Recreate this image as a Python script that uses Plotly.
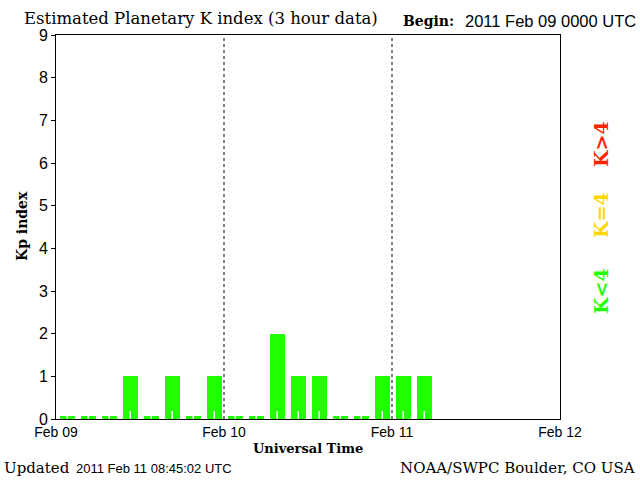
import plotly.graph_objects as go

# Kp index, 3-hour intervals starting 2011 Feb 09 00 UTC
kp_values = [0, 0, 0, 1, 0, 1, 0, 1,
             0, 0, 2, 1, 1, 0, 0, 1,
             1, 1]
day_labels = ["Feb 09", "Feb 10", "Feb 11", "Feb 12"]
day_hours = [0, 24, 48, 72]
y_ticks = list(range(10))

GREEN = "#22ff00"
YELLOW = "#ffd700"
RED = "#ff2200"
SERIF = "DejaVu Serif"
SANS = "Liberation Sans"

# plot area in pixels (640x480 page)
L, R, T, B = 56, 560, 35, 419


def px(x):
    return (x - L) / (R - L)


def py(y):
    return (B - y) / (B - T)


def kp_color(v):
    if v < 4:
        return GREEN
    if v == 4:
        return YELLOW
    return RED


centers = [3 * i + 1.6 for i in range(len(kp_values))]
heights = [v if v > 0 else 0.08 for v in kp_values]

fig = go.Figure()
fig.add_trace(go.Bar(
    x=centers,
    y=heights,
    width=2.2,
    marker=dict(color=[kp_color(v) for v in kp_values], line=dict(width=0)),
    customdata=kp_values,
    hovertemplate="Kp %{customdata}<extra></extra>",
))

# small white ticks at the foot of each bar
tx, ty = [], []
for c in centers:
    tx += [c, c, None]
    ty += [0, 0.19, None]
fig.add_trace(go.Scatter(x=tx, y=ty, mode="lines",
                         line=dict(color="white", width=1.5),
                         hoverinfo="skip"))

# dotted day separators
for h in day_hours[1:-1]:
    fig.add_shape(type="line", xref="x", yref="y", x0=h, x1=h, y0=0, y1=9,
                  line=dict(color="black", width=1, dash="dot"))

annots = [
    dict(text="Estimated Planetary K index (3 hour data)", x=px(22), y=py(19),
         xanchor="left", font=dict(family=SERIF, size=16.5, color="black")),
    dict(text="<b>Begin:</b>", x=px(401), y=py(21), xanchor="left",
         font=dict(family=SERIF, size=14, color="black")),
    dict(text="2011 Feb 09 0000 UTC", x=px(638), y=py(21), xanchor="right",
         font=dict(family=SANS, size=16.5, color="black")),
    dict(text="<b>Kp index</b>", x=px(22), y=py(226), textangle=-90,
         font=dict(family=SERIF, size=14, color="black")),
    dict(text="<b>Universal Time</b>", x=px(308), y=py(448),
         font=dict(family=SERIF, size=13, color="black")),
    dict(text="Updated", x=px(2), y=py(468), xanchor="left",
         font=dict(family=SERIF, size=15, color="black")),
    dict(text="2011 Feb 11 08:45:02 UTC", x=px(74), y=py(468), xanchor="left",
         font=dict(family=SANS, size=13, color="black")),
    dict(text="NOAA/SWPC Boulder, CO USA", x=px(637), y=py(468), xanchor="right",
         font=dict(family=SERIF, size=15, color="black")),
    dict(text="<b>K&gt;4</b>", x=px(601), y=py(144), textangle=-90,
         font=dict(family=SERIF, size=19, color=RED)),
    dict(text="<b>K=4</b>", x=px(601), y=py(215), textangle=-90,
         font=dict(family=SERIF, size=19, color=YELLOW)),
    dict(text="<b>K&lt;4</b>", x=px(601), y=py(291), textangle=-90,
         font=dict(family=SERIF, size=19, color=GREEN)),
]
for a in annots:
    a.update(xref="paper", yref="paper", showarrow=False, yanchor="middle")
    a.setdefault("xanchor", "center")
    fig.add_annotation(**a)

fig.update_layout(
    width=640, height=480,
    margin=dict(l=L, r=640 - R, t=T, b=480 - B),
    plot_bgcolor="white", paper_bgcolor="white",
    showlegend=False, bargap=0,
    xaxis=dict(
        range=[0, 72], tickvals=day_hours, ticktext=day_labels,
        showgrid=False, zeroline=False, ticks="",
        showline=True, mirror=True, linecolor="black", linewidth=1,
        tickfont=dict(family=SANS, size=14, color="black"),
        fixedrange=True,
    ),
    yaxis=dict(
        range=[0, 9], tickvals=y_ticks,
        showgrid=False, zeroline=False, ticks="outside", ticklen=4,
        tickcolor="black",
        showline=True, mirror=True, linecolor="black", linewidth=1,
        tickfont=dict(family=SANS, size=16, color="black"),
        fixedrange=True,
    ),
)

# drop the default page margin so the 640x480 figure fills the window
fig.write_html("out.html", config={"displayModeBar": False},
               post_script="document.body.style.margin = '0';")
